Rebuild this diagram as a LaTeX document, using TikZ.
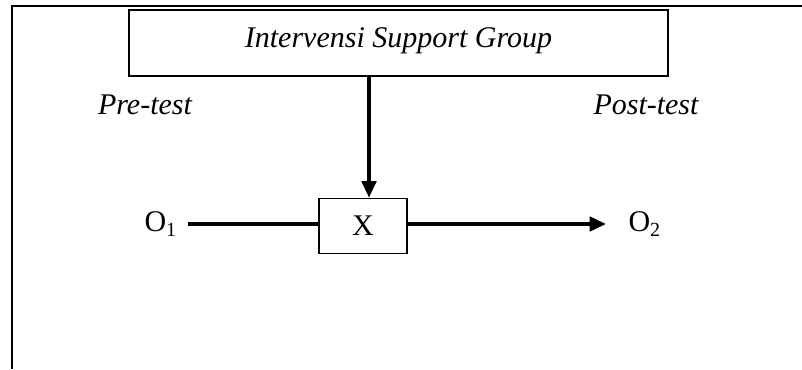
\documentclass[tikz,border=0pt]{standalone}
\usepackage{fontspec}
\setmainfont{Liberation Serif}
\usetikzlibrary{arrows.meta}
\tikzset{
  frame/.style={line width=1pt},
  box/.style={
    draw,
    line width=0.7pt,
    inner sep=0pt,
    align=center,
    font=\fontsize{12}{14}\selectfont
  },
  label/.style={font=\fontsize{12}{14}\selectfont,inner ysep=0pt},
  phase/.style={label,font=\fontsize{12}{14}\selectfont\itshape},
  flow/.style={-{Triangle[length=6.6pt,width=5.8pt]},line width=1.4pt},
  plain flow/.style={line width=1.4pt}
}

\begin{document}
\begin{tikzpicture}[x=0.4pt,y=-0.4pt]
  \useasboundingbox (0,0) rectangle (802,369);

  % open frame: top and left side only
  \coordinate (frame top) at (802,6);
  \coordinate (frame corner) at (12,6);
  \coordinate (frame bottom) at (12,369);
  \draw[frame] (frame top) -- (frame corner) -- (frame bottom);

  \node[box,minimum width=215.6pt,minimum height=26.4pt,
    text height=8.5pt,text depth=5.3pt] (title)
    at (398.5,43) {\itshape Intervensi Support Group};

  \node[phase] (pre) at (145,105) {Pre-test};
  \node[phase] (post) at (646,105) {Post-test};

  \node[box,minimum width=35.2pt,minimum height=22pt] (xbox)
    at (363,226) {X};
  \node[label,inner xsep=4pt] (o1) at (161,224) {O\textsubscript{1}};
  \node[label,inner xsep=8.8pt] (o2) at (645,224) {O\textsubscript{2}};

  \draw[flow] ([xshift=2.4pt]xbox.north |- title.south) -- ([xshift=2.4pt]xbox.north);
  \draw[plain flow] (o1.east) -- (o1.east -| xbox.west);
  \draw[flow] (o2.west -| xbox.east) -- (o2.west);
\end{tikzpicture}
\end{document}
